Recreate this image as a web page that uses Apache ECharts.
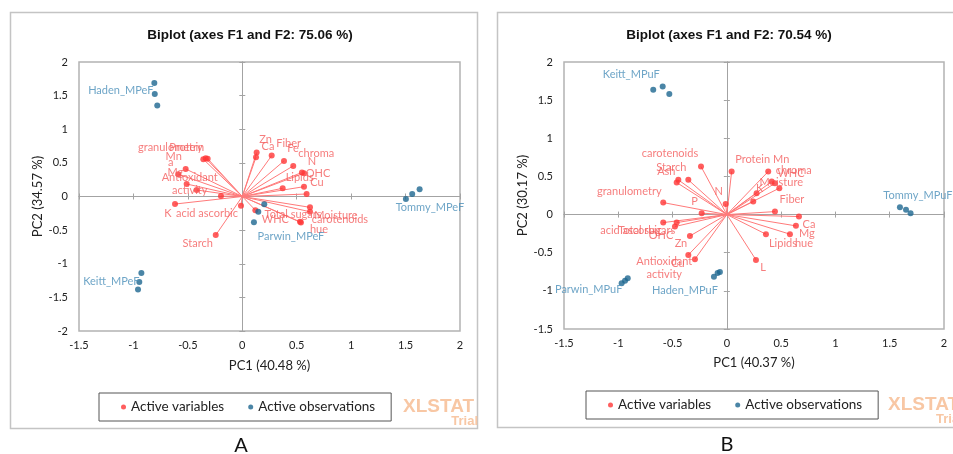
<!DOCTYPE html>
<html><head><meta charset="utf-8">
<script src="https://cdn.jsdelivr.net/npm/echarts@6/dist/echarts.min.js"></script>
<style>html,body{margin:0;padding:0;background:#fff}#c{width:953px;height:454px}</style>
</head><body><div id="c"></div>
<script>
// ---------------- DATA ----------------
const varNames = ['granulometry','Protein','Mn','a','Mg','P','Antioxidant activity','L','K','acid ascorbic','Starch','Zn','Ca','Fiber','Fe','chroma','N','OHC','Lipids','Cu','Ash','Moisture','Total sugars','carotenoids','hue','WHC'];
// Panel A loadings (PC1, PC2)
const pc1A = [-0.358,-0.336,-0.318,-0.520,-0.588,-0.511,-0.419,-0.196,-0.618,-0.012,-0.244,0.132,0.126,0.270,0.383,0.468,0.548,0.567,0.371,0.567,0.591,0.622,0.622,0.530,0.539,0.120];
const pc2A = [0.554,0.569,0.563,0.410,0.331,0.186,0.097,0.007,-0.112,-0.137,-0.574,0.653,0.584,0.608,0.529,0.455,0.358,0.346,0.122,0.146,0.037,-0.161,-0.227,-0.376,-0.387,-0.203];
// Panel B loadings (PC1, PC2)
const pc1B = [-0.586,0.044,0.381,0.243,0.636,-0.232,-0.355,0.268,0.274,-0.586,-0.355,-0.340,0.664,0.443,-0.462,0.413,-0.011,-0.478,0.360,-0.294,-0.447,0.483,-0.462,-0.238,0.581,0.443];
const pc2B = [0.157,0.564,0.564,0.171,-0.148,0.018,-0.529,-0.594,0.281,-0.105,0.455,-0.280,-0.026,0.039,0.420,0.433,0.140,-0.157,-0.257,-0.585,0.455,0.346,-0.105,0.630,-0.257,0.412];

const obsNamesA = ['Haden_MPeF','Keitt_MPeF','Tommy_MPeF','Parwin_MPeF'];
const obsPC1A = [[-0.808,-0.804,-0.781],[-0.927,-0.946,-0.958],[1.503,1.561,1.629],[0.202,0.147,0.107]];
const obsPC2A = [[1.687,1.523,1.353],[-1.136,-1.270,-1.383],[-0.037,0.037,0.107],[-0.116,-0.227,-0.384]];

const obsNamesB = ['Keitt_MPuF','Tommy_MPuF','Parwin_MPuF','Haden_MPuF'];
const obsPC1B = [[-0.678,-0.591,-0.530],[1.594,1.650,1.692],[-0.969,-0.938,-0.913],[-0.119,-0.085,-0.064]];
const obsPC2B = [[1.636,1.680,1.580],[0.097,0.062,0.018],[-0.900,-0.866,-0.835],[-0.814,-0.766,-0.753]];

const titleTexts = ['Biplot (axes F1 and F2: 75.06 %)','Biplot (axes F1 and F2: 70.54 %)'];
const xAxisNames = ['PC1 (40.48 %)','PC1 (40.37 %)'];
const yAxisNames = ['PC2 (34.57 %)','PC2 (30.17 %)'];
const xTicksA = [-1.5,-1,-0.5,0,0.5,1,1.5,2];
const yTicksA = [-2,-1.5,-1,-0.5,0,0.5,1,1.5,2];
const xTicksB = [-1.5,-1,-0.5,0,0.5,1,1.5,2];
const yTicksB = [-1.5,-1,-0.5,0,0.5,1,1.5,2];
const legendNames = ['Active variables','Active observations'];
const panelLetters = ['A','B'];

// ---------------- STYLE (label placement offsets, px) ----------------
const varLabelOffsetA = {
  'granulometry':[-33,-12],'Protein':[-19,-11],'Mn':[-34,-2],'a':[-15,-6],'Mg':[-3,-2],
  'Antioxidant activity':[-7,-6],'K':[-7,9],'acid ascorbic':[-34,8],'Starch':[-18,8],
  'Zn':[9,-13],'Ca':[12,-11],'Fiber':[17,-12],'Fe':[9,-12],'chroma':[23,-12],'N':[10,-11],
  'OHC':[14,0],'Lipids':[17,-11],'Cu':[13,-4],'Moisture':[26,8],'Total sugars':[-17,3],
  'carotenoids':[40,-2],'hue':[18,7],'WHC':[20,9]
};
const varLabelOffsetB = {
  'granulometry':[-34,-11],'Protein':[21,-12],'Mn':[13,-12],'Mg':[11,8],'P':[-7,-12],
  'Antioxidant activity':[-24,13],'L':[7,8],'K':[3,-5],'acid ascorbic':[-32,8],'Starch':[-17,-12],
  'Zn':[-9,8],'Ca':[10,8],'Fiber':[17,-12],'chroma':[22,-11],'N':[-7,-12],'OHC':[-14,9],
  'Lipids':[17,9],'Cu':[-17,4],'Ash':[-12,-8],'Moisture':[2,-6],'Total sugars':[-30,8],
  'carotenoids':[-31,-13],'hue':[14,9],'WHC':[16,-10]
};
const obsLabelA = {'Haden_MPeF':[1,[-34,-4]],'Keitt_MPeF':[1,[-28,0]],'Tommy_MPeF':[0,[24,8]],'Parwin_MPeF':[2,[37,14]]};
const obsLabelB = {'Keitt_MPuF':[0,[-22,-15]],'Tommy_MPuF':[0,[18,-12]],'Parwin_MPuF':[0,[-33,6]],'Haden_MPuF':[0,[-29,14]]};

const RED_LINE = '#ff7a7a', RED_DOT = '#ff3636', RED_TXT = '#f45c5c';
const BLUE_DOT = '#1d6690', BLUE_TXT = '#4a8fb9';
const GRAY = '#a3a3a3';
const FONT = 'Lato';

function rangeOf(t){ return {min:t[0], max:t[t.length-1], interval:t[1]-t[0]}; }

function axesFor(g, xt, yt, xName, yName, xGap, yGap){
  const base = {gridIndex:g, type:'value', splitLine:{show:false}, silent:true};
  const zl = {show:true, onZero:true, lineStyle:{color:GRAY, width:1}};
  const tk = (inside)=>({show:true, inside:inside, length:3, lineStyle:{color:GRAY}});
  const xr = rangeOf(xt), yr = rangeOf(yt);
  const xs = [
    Object.assign({}, base, xr, {position:'bottom', axisLine:{show:false,onZero:false}, axisTick:{show:false},
      axisLabel:{color:'#222', fontSize:11, fontFamily:FONT, margin:9},
      name:xName, nameLocation:'middle', nameGap:xGap, nameTextStyle:{color:'#222', fontSize:13, fontFamily:FONT}}),
    Object.assign({}, base, xr, {position:'bottom', axisLine:zl, axisTick:tk(false), axisLabel:{show:false}}),
    Object.assign({}, base, xr, {position:'bottom', axisLine:zl, axisTick:tk(true), axisLabel:{show:false}})
  ];
  const ys = [
    Object.assign({}, base, yr, {position:'left', axisLine:{show:false,onZero:false}, axisTick:{show:false},
      axisLabel:{color:'#222', fontSize:11, fontFamily:FONT, margin:11},
      name:yName, nameLocation:'middle', nameGap:yGap, nameTextStyle:{color:'#222', fontSize:13, fontFamily:FONT}}),
    Object.assign({}, base, yr, {position:'left', axisLine:zl, axisTick:tk(false), axisLabel:{show:false}}),
    Object.assign({}, base, yr, {position:'left', axisLine:zl, axisTick:tk(true), axisLabel:{show:false}})
  ];
  return {xs, ys};
}

function varSeries(g, pc1, pc2, offs){
  const ai = g*3;
  return [
    {type:'lines', coordinateSystem:'cartesian2d', xAxisIndex:ai, yAxisIndex:ai, silent:true, z:2,
     lineStyle:{color:RED_LINE, width:1, opacity:1},
     data: varNames.map((n,i)=>({coords:[[0,0],[pc1[i],pc2[i]]]}))},
    {type:'scatter', name:legendNames[0], xAxisIndex:ai, yAxisIndex:ai, symbolSize:6, z:3, silent:true,
     itemStyle:{color:RED_DOT},
     label:{show:true, position:'inside', color:RED_TXT, fontSize:11, fontFamily:FONT, lineHeight:13,
            formatter:p=>p.name.replace(' activity','\nactivity')},
     data: varNames.map((n,i)=>({name:n, value:[pc1[i],pc2[i]],
            label: offs[n] ? {show:true, offset:offs[n]} : {show:false}}))}
  ];
}

function obsSeries(g, names, p1, p2, labs){
  const ai = g*3;
  const data = [];
  names.forEach((n,k)=>{
    p1[k].forEach((x,j)=>{
      const L = labs[n];
      data.push({name:n, value:[x,p2[k][j]],
        label: (L && L[0]===j) ? {show:true, offset:L[1]} : {show:false}});
    });
  });
  return {type:'scatter', name:legendNames[1], xAxisIndex:ai, yAxisIndex:ai, symbolSize:6, z:4, silent:true,
    itemStyle:{color:BLUE_DOT},
    label:{show:true, position:'inside', color:BLUE_TXT, fontSize:11, fontFamily:FONT, formatter:p=>p.name},
    data};
}

const axA = axesFor(0, xTicksA, yTicksA, xAxisNames[0], yAxisNames[0], 28, 34);
const axB = axesFor(1, xTicksB, yTicksB, xAxisNames[1], yAxisNames[1], 27, 35);

const legendCommon = {
  data: legendNames.map(n=>({name:n, icon:'circle'})),
  orient:'horizontal', itemWidth:5, itemHeight:5, itemGap:24,
  padding:[7,16,7,22], borderColor:'#555', borderWidth:1, selectedMode:false,
  textStyle:{color:'#222', fontSize:13.5, fontFamily:FONT}
};

const wm = {fill:'#f8c7a4', fontFamily:'Liberation Sans', fontWeight:'bold'};

const option = {
  animation:false,
  backgroundColor:'#fff',
  title: [
    {text:titleTexts[0], left:245, top:23, textAlign:'center', textStyle:{fontSize:13.5, fontWeight:'bold', fontFamily:'Liberation Sans', color:'#111'}},
    {text:titleTexts[1], left:724, top:23, textAlign:'center', textStyle:{fontSize:13.5, fontWeight:'bold', fontFamily:'Liberation Sans', color:'#111'}}
  ],
  grid: [
    {left:79, top:62, width:381, height:269, show:true, borderColor:'#b3b3b3', borderWidth:1.5, containLabel:false},
    {left:564, top:62, width:380, height:267, show:true, borderColor:'#b3b3b3', borderWidth:1.5, containLabel:false}
  ],
  xAxis: axA.xs.concat(axB.xs),
  yAxis: axA.ys.concat(axB.ys),
  legend: [
    Object.assign({}, legendCommon, {left:99, top:393}),
    Object.assign({}, legendCommon, {left:586, top:391})
  ],
  graphic: [
    {type:'rect', silent:true, z:-10, shape:{x:10.5, y:12.5, width:467, height:416}, style:{fill:'none', stroke:'#c4c4c4', lineWidth:1.5}},
    {type:'rect', silent:true, z:-10, shape:{x:497.5, y:12.5, width:480, height:415}, style:{fill:'none', stroke:'#c4c4c4', lineWidth:1.5}},
    {type:'text', silent:true, left:403, top:397, style:Object.assign({text:'XLSTAT', fontSize:19}, wm)},
    {type:'text', silent:true, right:953-478, top:415, style:Object.assign({text:'Trial', fontSize:13}, wm)},
    {type:'text', silent:true, left:888, top:395, style:Object.assign({text:'XLSTAT', fontSize:19}, wm)},
    {type:'text', silent:true, left:936, top:413, style:Object.assign({text:'Trial', fontSize:13}, wm)},
    {type:'text', silent:true, x:241, y:446, style:{text:panelLetters[0], fontSize:20, fontFamily:FONT, fill:'#111', textAlign:'center', textVerticalAlign:'middle'}},
    {type:'text', silent:true, x:727, y:445, style:{text:panelLetters[1], fontSize:20, fontFamily:FONT, fill:'#111', textAlign:'center', textVerticalAlign:'middle'}}
  ],
  series: [
    ...varSeries(0, pc1A, pc2A, varLabelOffsetA),
    obsSeries(0, obsNamesA, obsPC1A, obsPC2A, obsLabelA),
    ...varSeries(1, pc1B, pc2B, varLabelOffsetB),
    obsSeries(1, obsNamesB, obsPC1B, obsPC2B, obsLabelB)
  ]
};

const chart = echarts.init(document.getElementById('c'), null, {renderer:'canvas'});
chart.setOption(option);
</script>
</body></html>
